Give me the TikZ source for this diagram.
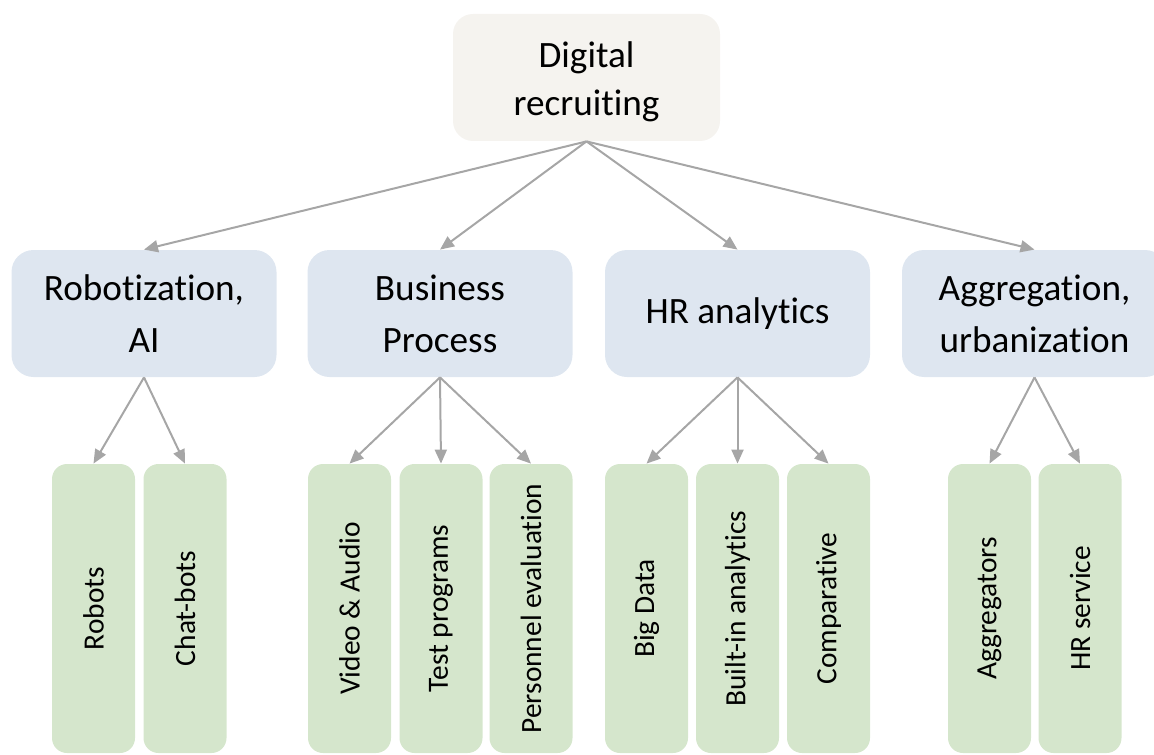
\documentclass[tikz,border=0pt]{standalone}
\usepackage{fontspec}
\setmainfont{Carlito}[Ligatures=NoCommon]
\usetikzlibrary{arrows.meta}

\definecolor{topfill}{RGB}{245,243,239}
\definecolor{areafill}{RGB}{222,230,240}
\definecolor{toolfill}{RGB}{213,230,204}
\definecolor{linkgray}{RGB}{166,166,166}

\tikzset{
    topbox/.style={rounded corners=10pt, minimum width=133.5pt, minimum height=63.5pt, fill=topfill, inner sep=0pt},
    areabox/.style={rounded corners=11pt, minimum width=132.5pt, minimum height=63.5pt, fill=areafill, align=center,
        inner sep=0pt, font=\fontsize{18.6}{26}\selectfont},
    toolbox/.style={rounded corners=7.5pt, minimum width=41.5pt, minimum height=144.5pt, fill=toolfill, inner sep=0pt,
        font=\fontsize{14.7}{17}\selectfont},
    link/.style={draw=linkgray, line width=1pt, -{Triangle[length=7pt, width=6pt]}}
}

\begin{document}
\begin{tikzpicture}[x=0.5pt, y=-0.5pt]
        \path[use as bounding box] (0,0) rectangle (1154,754);
        \clip (0,0) rectangle (1154,754);

        \node[topbox] (recruiting) at (586.5,77.5) {};
        \begin{scope}
            \clip (recruiting.north west) rectangle ([yshift=9pt]recruiting.south east);
            \node[align=center, inner sep=0pt, font=\fontsize{18.6}{24}\selectfont] (recruitingtext) at ([yshift=-2pt]recruiting.center) {Digital\\recruiting};
        \end{scope}

        \node[areabox] (robotization) at (144,313.5) {Robotization,\\AI};
        \node[areabox] (business) at (440,313.5) {Business\\Process};
        \node[areabox] (analytics) at (737.5,313.5) {HR analytics};
        \node[areabox] (aggregation) at (1034.5,313.5) {Aggregation,\\urbanization};

        \node[toolbox] (robots) at (93.5,608.5) {\rotatebox{90}{Robots}};
        \node[toolbox] (chatbots) at (185,608.5) {\rotatebox{90}{Chat-bots}};
        \node[toolbox] (video) at (349.5,608.5) {\rotatebox{90}{Video \& Audio}};
        \node[toolbox] (tests) at (441,608.5) {\rotatebox{90}{Test programs}};
        \node[toolbox] (evaluation) at (531,608.5) {\rotatebox{90}{Personnel evaluation}};
        \node[toolbox] (bigdata) at (646.5,608.5) {\rotatebox{90}{Big Data}};
        \node[toolbox] (builtin) at (737.5,608.5) {\rotatebox{90}{Built-in analytics}};
        \node[toolbox] (comparative) at (828.5,608.5) {\rotatebox{90}{Comparative}};
        \node[toolbox] (aggregators) at (989.5,608.5) {\rotatebox{90}{Aggregators}};
        \node[toolbox] (hrservice) at (1080,608.5) {\rotatebox{90}{HR service}};

        \draw[link] (recruiting.south) -- (robotization.north);
        \draw[link] (recruiting.south) -- (business.north);
        \draw[link] (recruiting.south) -- (analytics.north);
        \draw[link] (recruiting.south) -- (aggregation.north);

        \draw[link] (robotization.south) -- (robots.north);
        \draw[link] (robotization.south) -- (chatbots.north);
        \draw[link] (business.south) -- (video.north);
        \draw[link] (business.south) -- (tests.north);
        \draw[link] (business.south) -- (evaluation.north);
        \draw[link] (analytics.south) -- (bigdata.north);
        \draw[link] (analytics.south) -- (builtin.north);
        \draw[link] (analytics.south) -- (comparative.north);
        \draw[link] (aggregation.south) -- (aggregators.north);
        \draw[link] (aggregation.south) -- (hrservice.north);
    \end{tikzpicture}
\end{document}
